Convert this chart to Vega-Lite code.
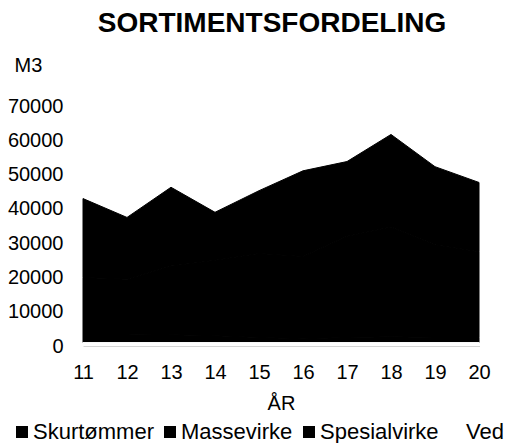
{
  "$schema": "https://vega.github.io/schema/vega-lite/v6.json",
  "width": 396,
  "height": 240,
  "autosize": {"type": "none"},
  "padding": {"left": 83, "top": 106, "right": 26, "bottom": 97},
  "background": "white",
  "config": {
    "font": "Liberation Sans",
    "view": {"stroke": null}
  },
  "title": {
    "text": "SORTIMENTSFORDELING",
    "fontSize": 28,
    "fontWeight": "bold",
    "font": "Liberation Sans",
    "color": "#000000",
    "anchor": "middle",
    "dx": -9,
    "offset": 17
  },
  "data": {
    "values": [
      {"aar": 11, "sortiment": "Skurtømmer", "m3": 16500},
      {"aar": 11, "sortiment": "Massevirke", "m3": 23000},
      {"aar": 11, "sortiment": "Spesialvirke", "m3": 2500},
      {"aar": 11, "sortiment": "Ved", "m3": 1000},
      {"aar": 12, "sortiment": "Skurtømmer", "m3": 16000},
      {"aar": 12, "sortiment": "Massevirke", "m3": 18000},
      {"aar": 12, "sortiment": "Spesialvirke", "m3": 2500},
      {"aar": 12, "sortiment": "Ved", "m3": 1000},
      {"aar": 13, "sortiment": "Skurtømmer", "m3": 20000},
      {"aar": 13, "sortiment": "Massevirke", "m3": 23000},
      {"aar": 13, "sortiment": "Spesialvirke", "m3": 2300},
      {"aar": 13, "sortiment": "Ved", "m3": 1000},
      {"aar": 14, "sortiment": "Skurtømmer", "m3": 22000},
      {"aar": 14, "sortiment": "Massevirke", "m3": 14000},
      {"aar": 14, "sortiment": "Spesialvirke", "m3": 2000},
      {"aar": 14, "sortiment": "Ved", "m3": 1000},
      {"aar": 15, "sortiment": "Skurtømmer", "m3": 24500},
      {"aar": 15, "sortiment": "Massevirke", "m3": 18300},
      {"aar": 15, "sortiment": "Spesialvirke", "m3": 1500},
      {"aar": 15, "sortiment": "Ved", "m3": 1000},
      {"aar": 16, "sortiment": "Skurtømmer", "m3": 24000},
      {"aar": 16, "sortiment": "Massevirke", "m3": 25000},
      {"aar": 16, "sortiment": "Spesialvirke", "m3": 1100},
      {"aar": 16, "sortiment": "Ved", "m3": 1000},
      {"aar": 17, "sortiment": "Skurtømmer", "m3": 29500},
      {"aar": 17, "sortiment": "Massevirke", "m3": 21800},
      {"aar": 17, "sortiment": "Spesialvirke", "m3": 1500},
      {"aar": 17, "sortiment": "Ved", "m3": 1000},
      {"aar": 18, "sortiment": "Skurtømmer", "m3": 32000},
      {"aar": 18, "sortiment": "Massevirke", "m3": 27000},
      {"aar": 18, "sortiment": "Spesialvirke", "m3": 1700},
      {"aar": 18, "sortiment": "Ved", "m3": 1000},
      {"aar": 19, "sortiment": "Skurtømmer", "m3": 27000},
      {"aar": 19, "sortiment": "Massevirke", "m3": 22800},
      {"aar": 19, "sortiment": "Spesialvirke", "m3": 1500},
      {"aar": 19, "sortiment": "Ved", "m3": 1000},
      {"aar": 20, "sortiment": "Skurtømmer", "m3": 25000},
      {"aar": 20, "sortiment": "Massevirke", "m3": 20200},
      {"aar": 20, "sortiment": "Spesialvirke", "m3": 1500},
      {"aar": 20, "sortiment": "Ved", "m3": 1000}
    ]
  },
  "mark": {"type": "area", "line": false, "strokeWidth": 1},
  "encoding": {
    "x": {
      "field": "aar",
      "type": "quantitative",
      "scale": {"domain": [11, 20], "nice": false, "zero": false},
      "axis": {
        "title": "ÅR",
        "values": [11, 12, 13, 14, 15, 16, 17, 18, 19, 20],
        "format": "d",
        "grid": false,
        "ticks": false,
        "domain": true,
        "domainColor": "#aaaaaa",
        "labelFontSize": 20,
        "labelColor": "#000000",
        "labelPadding": 16,
        "labelFlush": false,
        "titleFontSize": 20,
        "titleFontWeight": "normal",
        "titleColor": "#000000",
        "titlePadding": 11
      }
    },
    "y": {
      "field": "m3",
      "type": "quantitative",
      "stack": "zero",
      "scale": {"domain": [0, 70000], "nice": false},
      "axis": {
        "title": "M3",
        "values": [0, 10000, 20000, 30000, 40000, 50000, 60000, 70000],
        "format": "d",
        "grid": false,
        "ticks": false,
        "domain": false,
        "labelFontSize": 20,
        "labelColor": "#000000",
        "labelPadding": 20,
        "titleAngle": 0,
        "titleX": -55,
        "titleY": -41,
        "titleAlign": "center",
        "titleBaseline": "middle",
        "titleFontSize": 20,
        "titleFontWeight": "normal",
        "titleColor": "#000000"
      }
    },
    "color": {
      "field": "sortiment",
      "type": "nominal",
      "scale": {
        "domain": ["Skurtømmer", "Massevirke", "Spesialvirke", "Ved"],
        "range": ["#000000", "#000000", "#000000", "#ffffff"]
      },
      "legend": {
        "title": null,
        "orient": "none",
        "direction": "horizontal",
        "legendX": -72,
        "legendY": 315,
        "symbolType": "square",
        "symbolSize": 144,
        "symbolStrokeWidth": 0,
        "symbolOpacity": 1,
        "labelFontSize": 22,
        "labelColor": "#000000",
        "labelOffset": 0,
        "columnPadding": 5
      }
    },
    "stroke": {
      "field": "sortiment",
      "type": "nominal",
      "scale": {
        "domain": ["Skurtømmer", "Massevirke", "Spesialvirke", "Ved"],
        "range": ["#000000", "#000000", "#000000", "#ffffff"]
      },
      "legend": null
    }
  }
}
